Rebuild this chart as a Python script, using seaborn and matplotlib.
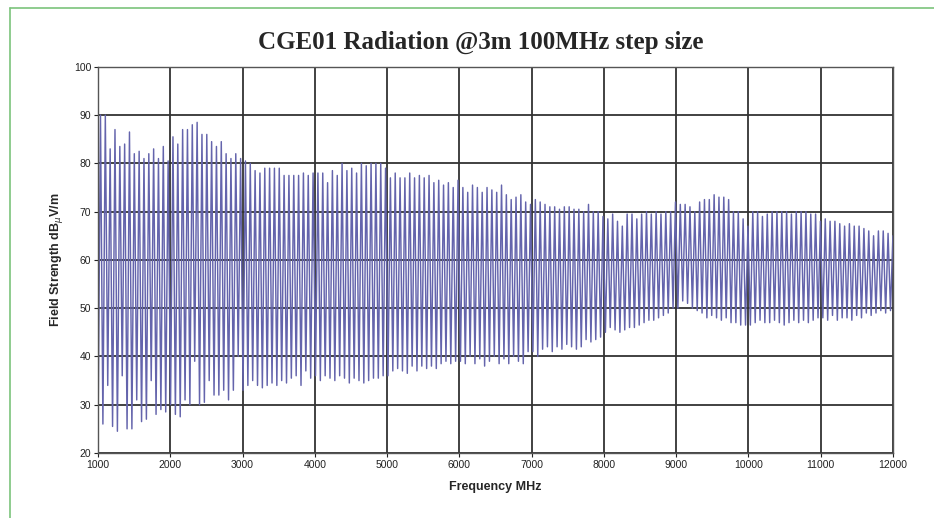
import numpy as np
import pandas as pd
import matplotlib
matplotlib.use("Agg")
import matplotlib.pyplot as plt
from matplotlib.lines import Line2D
import seaborn as sns

title = "CGE01 Radiation @3m 100MHz step size"
x_label = "Frequency MHz"
y_label = "Field Strength dB$_{\\mu}$V/m"
x_ticks = [1000, 2000, 3000, 4000, 5000, 6000, 7000, 8000, 9000, 10000, 11000, 12000]
y_ticks = [20, 30, 40, 50, 60, 70, 80, 90, 100]

# peak readings (dBuV/m), 15 per 1000 MHz band
peak_db = [
    90, 90, 83, 87, 83.5, 84, 86.5, 82, 82.5, 81, 82, 83, 81, 83.5, 80.5,
    85.5, 84, 87, 87, 88, 88.5, 86, 86, 84.5, 83.5, 84.5, 82, 81, 82, 81,
    80.5, 80, 78.5, 78, 79, 79, 79, 79, 77.5, 77.5, 77.5, 77.5, 78, 77.5, 78,
    78, 78, 76, 78.5, 77.5, 80, 78.5, 79, 78, 80, 79.5, 80, 80, 80, 79,
    77, 78, 77, 77, 78, 77, 77.5, 77, 77.5, 76, 76.5, 75.5, 76, 75, 76.5,
    75, 74, 75.5, 75, 74, 75, 74.5, 74, 75.5, 73.5, 72.5, 73, 73.5, 72, 71.5,
    72.5, 72, 71.5, 71, 71, 70.5, 71, 71, 70.5, 70.5, 70, 71.5, 70, 70, 69,
    68.5, 69.5, 68, 67, 69.5, 69.5, 68.5, 69.5, 70, 69.5, 70, 69.5, 70, 70, 72,
    71.5, 71.5, 71, 70, 72, 72.5, 72.5, 73.5, 73, 73, 72.5, 70, 70, 68.5, 67,
    70, 70, 69, 69.5, 70, 70, 70, 70, 69.5, 70, 70, 70, 69.5, 69.5, 68,
    68.5, 68, 68, 67.5, 67, 67.5, 67, 67, 66.5, 66, 65, 66, 66, 65.5, 65,
]

# trough readings (dBuV/m), 15 per 1000 MHz band
trough_db = [
    25.5, 26, 34, 25.5, 24.5, 36, 25, 25, 31, 26.5, 27, 35, 28, 29, 28.5,
    30, 28, 27.5, 31, 30, 39, 30, 30.5, 35, 32, 32, 33, 31, 33, 40,
    33, 34, 35, 34, 33.5, 34, 34.5, 34, 35, 34.5, 35.5, 36, 34, 37, 35.5,
    36, 35, 36, 35.5, 35, 36, 35.5, 34.5, 35.5, 35, 34.5, 35, 35.5, 35.5, 36,
    36, 37, 37.5, 37, 36.5, 38, 37, 38, 37.5, 38, 37.5, 38.5, 39, 38.5, 39,
    39, 38.5, 40, 38.5, 39.5, 38, 39, 40, 38.5, 39.5, 38.5, 40, 39, 38.5, 41,
    41, 40, 41.5, 42, 41, 42, 41.5, 42.5, 42, 41.5, 42, 43.5, 43, 43.5, 44,
    45, 46, 45.5, 45, 45.5, 46, 46, 46.5, 47, 47.5, 47.5, 48, 48.5, 49, 50,
    50, 51.5, 51, 50, 49.5, 49, 48, 48.5, 48, 47.5, 48, 47, 47, 46.5, 46.5,
    46.5, 47, 47.5, 47, 47, 47.5, 47, 46.5, 47, 47.5, 47, 47.5, 47, 47.5, 48,
    48, 47.5, 48.5, 47.5, 48, 48, 47.5, 48.5, 48, 49, 48.5, 49, 49.5, 49, 49.5,
]

values = []
for t, p in zip(trough_db, peak_db):
    values.append(t)
    values.append(p)
freq = np.linspace(1000, 12000, len(values))
df = pd.DataFrame({"freq": freq, "level": values})

sns.set_theme(style="white")
plt.rcParams["font.family"] = ["Liberation Sans", "DejaVu Sans"]

fig = plt.figure(figsize=(9.34, 5.18), dpi=100)
ax = fig.add_axes([0.105, 0.1255, 0.851, 0.7455])

sns.lineplot(data=df, x="freq", y="level", ax=ax, color="#6464ac",
             linewidth=1.05, estimator=None, sort=False)

ax.set_xlim(1000, 12000)
ax.set_ylim(20, 100)
ax.set_xticks(x_ticks)
ax.set_yticks(y_ticks)
ax.tick_params(axis="both", labelsize=7.5, colors="#222222", length=3,
               width=0.8, direction="out", left=True, bottom=True, pad=2)
ax.grid(True, color="#333333", linewidth=1.3)
ax.set_axisbelow(True)
for s in ax.spines.values():
    s.set_color("#555555")
    s.set_linewidth(1.0)

ax.set_xlabel(x_label, fontsize=9, fontweight="bold", labelpad=8)
ax.set_ylabel(y_label, fontsize=9, fontweight="bold", labelpad=6)

fig.text(0.515, 0.918, title, ha="center", va="center", fontsize=18,
         fontweight="bold", family=["Liberation Serif", "DejaVu Serif"])

# green frame
fig.add_artist(Line2D([10 / 934, 10 / 934], [0, 1 - 8 / 518],
                      transform=fig.transFigure, color="#7cc47c", linewidth=1.2))
fig.add_artist(Line2D([10 / 934, 1], [1 - 8 / 518, 1 - 8 / 518],
                      transform=fig.transFigure, color="#7cc47c", linewidth=1.2))

fig.savefig("out.png", dpi=100, facecolor="white")
